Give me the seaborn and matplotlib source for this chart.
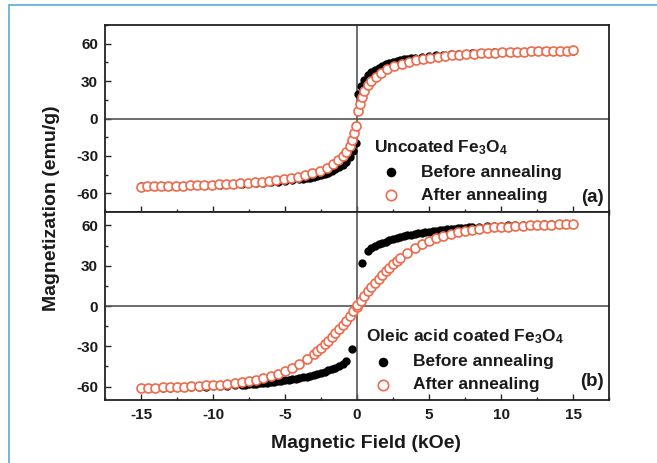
import numpy as np
import matplotlib
matplotlib.use('Agg')
import matplotlib.pyplot as plt
import seaborn as sns
import pandas as pd
from matplotlib.patches import Rectangle
from matplotlib.ticker import MultipleLocator

# --- Dados (ramo H >= 0; o ramo negativo é simétrico) ---
# (a) Fe3O4 sem revestimento, antes do recozimento
h_a_antes = [0.1, 0.25, 0.5, 0.75, 1.0, 1.25, 1.5, 1.75, 2.0, 2.25, 2.5, 2.75,
             3.0, 3.25, 3.5, 3.75, 4.0, 4.5, 5.0, 5.5, 6.0, 6.5, 7.0, 7.5, 8.0,
             8.5, 9.0, 9.5, 10.0, 10.5, 11.0, 11.5, 12.0, 12.5, 13.0, 13.5,
             14.0, 14.5, 15.0]
m_a_antes = [20, 26, 31, 34.5, 37, 39, 40.8, 42.2, 43.5, 44.5, 45.4, 46.2,
             46.9, 47.5, 48, 48.5, 48.9, 49.6, 50.2, 50.7, 51.1, 51.5, 51.8,
             52.1, 52.4, 52.6, 52.8, 53.0, 53.2, 53.4, 53.5, 53.7, 53.8, 53.9,
             54.0, 54.1, 54.2, 54.3, 54.4]
# (a) Fe3O4 sem revestimento, depois do recozimento
h_a_depois = [0.05, 0.2, 0.35, 0.5, 0.75, 1.0, 1.3, 1.7, 2.1, 2.6, 3.1, 3.6,
              4.1, 4.6, 5.1, 5.6, 6.1, 6.6, 7.1, 7.6, 8.1, 8.6, 9.1, 9.6, 10.1,
              10.6, 11.1, 11.6, 12.1, 12.6, 13.1, 13.6, 14.1, 14.6, 15.0]
m_a_depois = [6, 12, 17, 22, 27, 30, 33.5, 36.8, 39.5, 42, 44, 45.6, 46.9, 48,
              48.9, 49.6, 50.2, 50.8, 51.2, 51.6, 52.0, 52.3, 52.6, 52.9, 53.1,
              53.3, 53.5, 53.7, 53.9, 54.0, 54.2, 54.3, 54.4, 54.5, 54.6]
# (b) Fe3O4 revestido com ácido oleico, antes do recozimento
h_b_antes = [0.35, 0.75, 1.0, 1.25, 1.5, 1.75, 2.0, 2.25, 2.5, 2.75, 3.0, 3.25,
             3.5, 3.75, 4.0, 4.25, 4.5, 4.75, 5.0, 5.25, 5.5, 5.75, 6.0, 6.25,
             6.5, 6.75, 7.0, 7.25, 7.5, 7.75, 8.0, 8.5, 9.0, 9.5, 10.0, 10.5,
             11.0, 11.5, 12.0, 12.5, 13.0, 13.5, 14.0, 14.5, 15.0]
m_b_antes = [32, 41, 43, 44.5, 45.8, 47, 48, 49, 49.9, 50.7, 51.4, 52, 52.6,
             53.2, 53.7, 54.2, 54.6, 55, 55.4, 55.8, 56.1, 56.5, 56.8, 57,
             57.3, 57.6, 57.8, 58.1, 58.3, 58.5, 58.7, 59, 59.3, 59.6, 59.8, 60,
             60.2, 60.4, 60.5, 60.6, 60.7, 60.8, 60.9, 61, 61.1]
# (b) Fe3O4 revestido com ácido oleico, depois do recozimento
h_b_depois = [0.0, 0.25, 0.5, 0.75, 1.0, 1.25, 1.5, 1.75, 2.0, 2.25, 2.5, 2.75,
              3.0, 3.5, 4.0, 4.5, 5.0, 5.5, 6.0, 6.5, 7.0, 7.5, 8.0, 8.5, 9.0,
              9.5, 10.0, 10.5, 11.0, 11.5, 12.0, 12.5, 13.0, 13.5, 14.0, 14.5,
              15.0]
m_b_depois = [0.5, 4, 7.5, 11, 14, 17, 20, 23, 26, 28.5, 31, 33.5, 35.5, 39.5,
              43, 46, 48.5, 50.5, 52.3, 53.8, 55, 56, 56.8, 57.5, 58, 58.5,
              58.9, 59.2, 59.5, 59.8, 60, 60.2, 60.4, 60.5, 60.7, 60.8, 61]

rotulo_antes = 'Before annealing'
rotulo_depois = 'After annealing'
titulo_a = 'Uncoated Fe$_3$O$_4$'
titulo_b = 'Oleic acid coated Fe$_3$O$_4$'

VERMELHO = '#ee6a4c'
AZUL = '#62b3dd'
TEXTO = '#1a1a1a'


def ciclo(h, m):
    """Monta o ciclo completo espelhando o ramo positivo."""
    h = np.asarray(h, dtype=float)
    m = np.asarray(m, dtype=float)
    return pd.DataFrame({'H': np.concatenate([-h[::-1], h]),
                         'M': np.concatenate([-m[::-1], m])})


sns.set_style('ticks')
plt.rcParams['font.family'] = ['Liberation Sans', 'DejaVu Sans']
plt.rcParams['mathtext.fontset'] = 'custom'
plt.rcParams['mathtext.rm'] = 'Liberation Sans:bold'
plt.rcParams['mathtext.it'] = 'Liberation Sans:bold:italic'
plt.rcParams['axes.unicode_minus'] = False

fig = plt.figure(figsize=(6.57, 4.63), dpi=100)
fig.patch.set_facecolor('white')
fig.patches.append(Rectangle((9 / 657, -0.1), 1.2, 1.1 - 5 / 463,
                             transform=fig.transFigure, fill=False,
                             edgecolor=AZUL, lw=1.3))

esq, larg = 105 / 657, 504 / 657
ax_a = fig.add_axes([esq, 1 - 212 / 463, larg, 187 / 463])
ax_b = fig.add_axes([esq, 1 - 400 / 463, larg, 188 / 463])

paineis = [
    (ax_a, h_a_antes, m_a_antes, h_a_depois, m_a_depois, titulo_a, '(a)', 75,
     (0.509, 0.46), 0.08),
    (ax_b, h_b_antes, m_b_antes, h_b_depois, m_b_depois, titulo_b, '(b)', 70,
     (0.493, 0.45), 0.096),
]

for ax, ha, ma, hd, md, titulo, letra, ylim, pos_leg, y_letra in paineis:
    ax.axhline(0, color='#555555', lw=1.2, zorder=1)
    ax.axvline(0, color='#555555', lw=1.2, zorder=1)
    sns.scatterplot(data=ciclo(ha, ma), x='H', y='M', ax=ax, color='black',
                    s=36, linewidth=0, label=rotulo_antes, zorder=3)
    sns.scatterplot(data=ciclo(hd, md), x='H', y='M', ax=ax,
                    facecolor='white', edgecolor=VERMELHO, s=42,
                    linewidth=1.2, label=rotulo_depois, zorder=4)
    ax.set_xlim(-17.5, 17.5)
    ax.set_ylim(-ylim, ylim)
    ax.set_xlabel('')
    ax.set_ylabel('')
    ax.xaxis.set_major_locator(MultipleLocator(5))
    ax.xaxis.set_minor_locator(MultipleLocator(2.5))
    ax.yaxis.set_major_locator(MultipleLocator(30))
    ax.yaxis.set_minor_locator(MultipleLocator(15))
    ax.tick_params(axis='y', which='major', direction='in', length=4,
                   width=1, labelsize=11, pad=5, labelcolor=TEXTO)
    ax.tick_params(axis='y', which='minor', direction='in', length=2.5,
                   width=1)
    for rotulo in ax.get_yticklabels():
        rotulo.set_fontweight('bold')
    for lado in ax.spines.values():
        lado.set_linewidth(1.3)
        lado.set_color('#222222')
    leg = ax.legend(title=titulo, loc='upper left', bbox_to_anchor=pos_leg,
                    frameon=False, prop={'size': 12.5, 'weight': 'bold'},
                    handlelength=2.05, handletextpad=0.7, labelspacing=0.45,
                    borderpad=0.2, markerscale=1.15, alignment='left')
    leg.get_title().set_fontsize(12.5)
    leg.get_title().set_fontweight('bold')
    for t in leg.get_texts() + [leg.get_title()]:
        t.set_color(TEXTO)
    ax.text(0.99, y_letra, letra, transform=ax.transAxes, ha='right',
            va='center', fontsize=13.5, fontweight='bold', color=TEXTO)

ax_a.tick_params(axis='x', which='major', direction='inout', length=8,
                 width=1, labelbottom=False)
ax_a.tick_params(axis='x', which='minor', direction='inout', length=5,
                 width=1)
ax_b.tick_params(axis='x', which='major', direction='in', length=4.5,
                 width=1, labelsize=11, pad=6, labelcolor=TEXTO)
ax_b.tick_params(axis='x', which='minor', direction='in', length=2.5,
                 width=1)
for rotulo in ax_b.get_xticklabels():
    rotulo.set_fontweight('bold')

fig.text(52 / 657, 1 - 208 / 463, 'Magnetization (emu/g)', rotation=90,
         ha='center', va='center', fontsize=14, fontweight='bold',
         color=TEXTO)
fig.text(366 / 657, 1 - 443 / 463, 'Magnetic Field (kOe)', ha='center',
         va='center', fontsize=14, fontweight='bold', color=TEXTO)

fig.savefig('out.png', dpi=100, facecolor='white')
plt.close(fig)
